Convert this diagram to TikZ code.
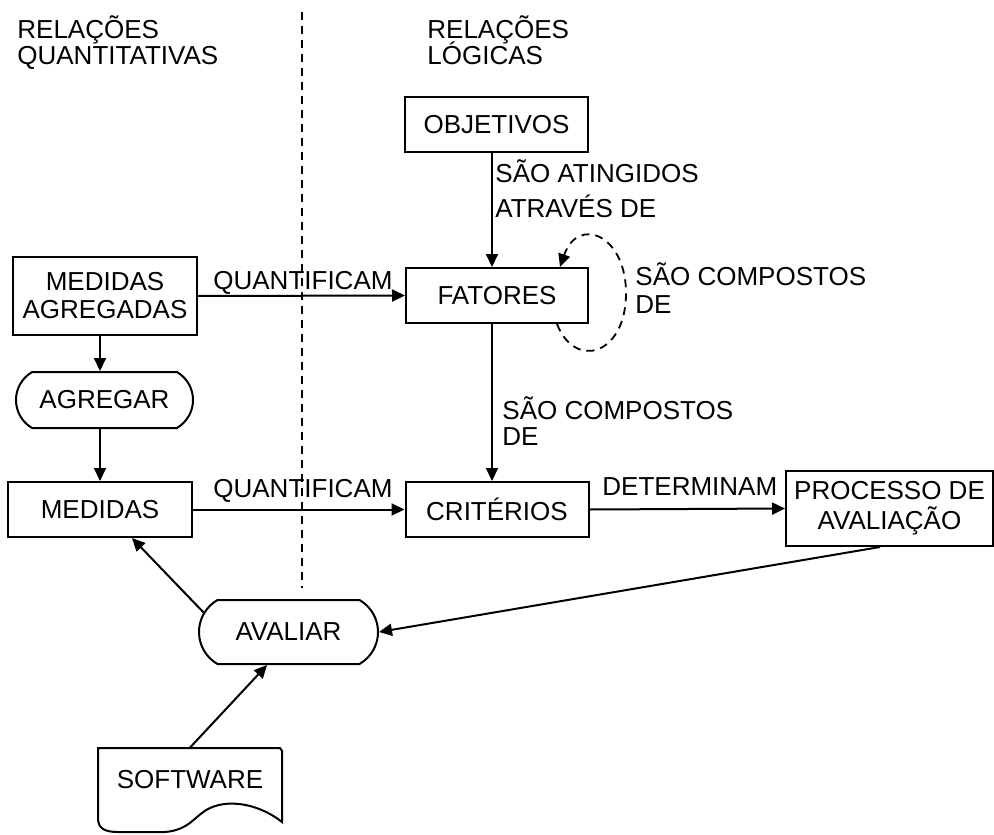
\documentclass[tikz,border=0pt]{standalone}
\usepackage{fontspec}
\setmainfont{Liberation Sans}
\usetikzlibrary{arrows.meta,shapes.misc}
\begin{document}
\begin{tikzpicture}[x=0.5pt,y=-0.5pt,
  every node/.style={font=\fontsize{13}{14}\selectfont},
  box/.style={draw,line width=1pt,rectangle,inner sep=0pt,align=center},
  pill/.style={draw,line width=1pt,rounded rectangle,rounded rectangle arc length=120,inner sep=0pt},
  lbl/.style={anchor=base west,inner sep=0pt},
  flow/.style={line width=1pt,-{Triangle[length=6.5pt,width=6pt]}},
  sep/.style={line width=0.9pt,dash pattern=on 4pt off 3pt}
]
\useasboundingbox (0,0) rectangle (994,834);

% column separator
\coordinate (dtop) at (302,12);
\coordinate (dbot) at (302,588);
\draw[sep] (dtop) -- (dbot);

% column headings
\node[lbl] (hq1) at (17,39) {RELAÇÕES};
\node[lbl] (hq2) at (17,65) {QUANTITATIVAS};
\node[lbl] (hl1) at (427,39) {RELAÇÕES};
\node[lbl] (hl2) at (427,65) {LÓGICAS};

% boxes
\node[box,minimum width=91.5pt,minimum height=27.5pt] (obj) at (496.5,124.5) {OBJETIVOS};
\node[box,minimum width=91pt,minimum height=27.5pt] (fat) at (497,295.5) {FATORES};
\node[box,minimum width=92pt,minimum height=39pt] (ma) at (105,296) {MEDIDAS\\AGREGADAS};
\node[pill,minimum width=88.5pt,minimum height=28pt] (agr) at (104.5,400) {AGREGAR};
\node[box,minimum width=92pt,minimum height=27.5pt] (med) at (100,509.5) {MEDIDAS};
\node[box,minimum width=91.5pt,minimum height=27.5pt] (cri) at (497,509.5) {CRITÉRIOS};
\node[box,minimum width=103.5pt,minimum height=37.5pt,font=\fontsize{13}{15}\selectfont] (proc) at (889.5,508.5) {PROCESSO DE\\AVALIAÇÃO};
\node[pill,minimum width=89.5pt,minimum height=32pt] (aval) at (288.5,632) {AVALIAR};

% software document
\draw[line width=1pt] (98,748) -- (280,748) -- (282,751) -- (282,822)
  .. controls (262,806) and (232,798) .. (210,808)
  .. controls (195,815) and (190,830) .. (165,832)
  -- (118,832) .. controls (104,832) and (98,828) .. (98,818) -- cycle;
\node[inner sep=0pt,minimum width=92pt,minimum height=32pt] (sw) at (190,780) {SOFTWARE};

% connectors
\draw[flow] ([xshift=-2.25pt]obj.south) -- ([xshift=-2.5pt]fat.north);
\draw[flow] ([xshift=-2.5pt]fat.south) -- ([xshift=-2.5pt]cri.north);
\draw[flow] (ma.east) -- (fat.west);
\draw[flow] ([xshift=-2.5pt]ma.south) -- ([xshift=-2.25pt]agr.north);
\draw[flow] ([xshift=-2.25pt]agr.south) -- (med.north);
\draw[flow] (med.east) -- (cri.west);
\draw[flow] (cri.east) -- (proc.west);
\draw[flow] ([xshift=-4.75pt]proc.south) -- (aval.east);
\draw[flow] (aval.167) -- ([xshift=16pt]med.south);
\draw[flow] (sw.north) -- (aval.237);

% factors composed of factors
\draw[sep,-{Triangle[length=6.5pt,width=6pt]}] ([xshift=30pt]fat.south)
  .. controls (575,370) and (625,355) .. (626,295)
  .. controls (627,235) and (578,215) .. ([xshift=31.5pt]fat.north);

% connector labels
\node[lbl] (at1) at (495,183) {SÃO ATINGIDOS};
\node[lbl] (at2) at (495,218) {ATRAVÉS DE};
\node[lbl] (qa) at (213,289) {QUANTIFICAM};
\node[lbl] (qb) at (213,497) {QUANTIFICAM};
\node[lbl] (sc1) at (635,285) {SÃO COMPOSTOS};
\node[lbl] (sc2) at (635,313) {DE};
\node[lbl] (sd1) at (502,419) {SÃO COMPOSTOS};
\node[lbl] (sd2) at (502,445) {DE};
\node[lbl] (det) at (602,495) {DETERMINAM};
\end{tikzpicture}
\end{document}
